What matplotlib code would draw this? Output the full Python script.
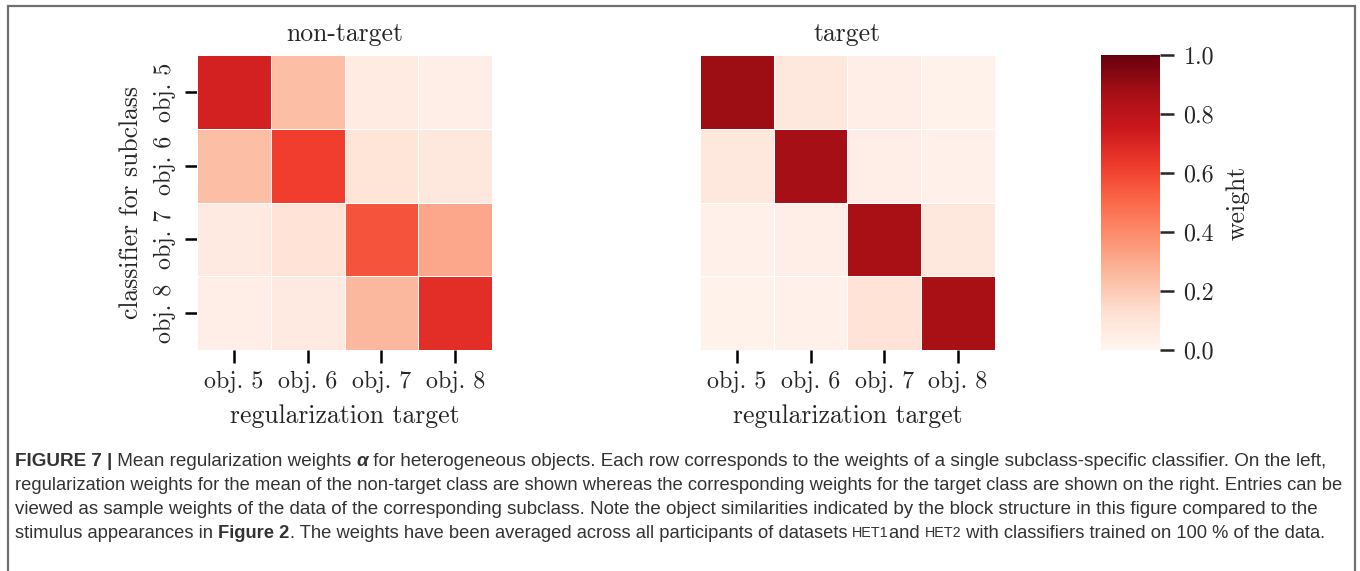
import numpy as np
import matplotlib
matplotlib.use("Agg")
import matplotlib.pyplot as plt
import seaborn as sns
from matplotlib.patches import Rectangle

# --- mean regularization weights (rows: classifier for subclass, cols: regularization target) ---
objects = ["obj. 5", "obj. 6", "obj. 7", "obj. 8"]

weights_nontarget = np.array([
    [0.72, 0.24, 0.06, 0.04],
    [0.24, 0.62, 0.10, 0.08],
    [0.07, 0.11, 0.56, 0.31],
    [0.04, 0.07, 0.26, 0.67],
])

weights_target = np.array([
    [0.89, 0.08, 0.04, 0.02],
    [0.08, 0.87, 0.04, 0.03],
    [0.03, 0.04, 0.86, 0.08],
    [0.02, 0.03, 0.11, 0.86],
])

panel_titles = ["non-target", "target"]
cbar_ticks = [0.0, 0.2, 0.4, 0.6, 0.8, 1.0]

# --- style ---
sns.set_style("ticks")
plt.rcParams['font.family'] = ['cmr10', 'DejaVu Serif']
plt.rcParams['axes.formatter.use_mathtext'] = True
plt.rcParams['mathtext.fontset'] = 'cm'

FS = 18.5      # titles / axis labels
TFS = 17.3     # tick labels
W, H = 1360, 571
fig = plt.figure(figsize=(W / 100, H / 100), dpi=100)

def px_axes(x0, y0, x1, y1):
    return fig.add_axes([x0 / W, 1 - y1 / H, (x1 - x0) / W, (y1 - y0) / H])

ax_left = px_axes(197, 55, 492, 350)
ax_right = px_axes(700, 55, 995, 350)
cax = px_axes(1101, 55, 1160, 350)

for ax, data, title in zip([ax_left, ax_right], [weights_nontarget, weights_target], panel_titles):
    sns.heatmap(data, ax=ax, cmap="Reds", vmin=0, vmax=1, linewidths=0.4,
                linecolor="white", square=False, cbar=(ax is ax_left), cbar_ax=cax if ax is ax_left else None,
                xticklabels=objects, yticklabels=objects if ax is ax_left else False)
    ax.set_title(title, fontsize=FS, pad=10)
    ax.set_xlabel("regularization target", fontsize=FS, labelpad=8)
    ax.tick_params(axis='both', length=9, width=1.8, color='black', labelsize=TFS, pad=6)
    ax.set_xticklabels(objects, rotation=0)
    if ax is ax_left:
        ax.set_yticklabels(objects, rotation=90, va='center')
        ax.set_ylabel("classifier for subclass", fontsize=FS, labelpad=8)
    else:
        ax.tick_params(axis='y', left=False)

cax.tick_params(length=10, width=1.8, labelsize=TFS, pad=7)
cax.set_yticks(cbar_ticks)
cax.set_yticklabels([f"{t:.1f}" for t in cbar_ticks])
cax.set_ylabel("weight", fontsize=FS, labelpad=8)
for s in cax.spines.values():
    s.set_visible(False)

# --- frame around figure and caption ---
frame = Rectangle((7.5 / W, -0.05), (1355 - 7.5) / W, 1.05 - 6 / H, transform=fig.transFigure,
                  fill=False, edgecolor='#707070', linewidth=1.6, clip_on=False)
fig.patches.append(frame)

cap_font = ['Liberation Sans', 'DejaVu Sans']
cap_size = 13.5
cap_color = '#333333'

caption = [
    [("FIGURE 7 |", dict(weight='bold')), (" Mean regularization weights ", {}),
     ("α", dict(weight='bold', style='italic')),
     (" for heterogeneous objects. Each row corresponds to the weights of a single subclass-specific classifier. On the left,", {})],
    [("regularization weights for the mean of the non-target class are shown whereas the corresponding weights for the target class are shown on the right. Entries can be", {})],
    [("viewed as sample weights of the data of the corresponding subclass. Note the object similarities indicated by the block structure in this figure compared to the", {})],
    [("stimulus appearances in ", {}), ("Figure 2", dict(weight='bold')),
     (". The weights have been averaged across all participants of datasets ", {}),
     ("HET1", dict(small=True)), ("and ", {}), ("HET2", dict(small=True)),
     (" with classifiers trained on 100 % of the data.", {})],
]
line_y = [461, 485, 509, 533]
line_end = [1327, 1345, 1316, 1328]   # right edge of each caption line (px)

renderer = fig.canvas.get_renderer()

def draw_line(pieces, y, size, x0=15):
    x = x0
    texts = []
    for txt, kw in pieces:
        kw = dict(kw)
        small = kw.pop('small', False)
        opts = dict(family=cap_font, size=size * (0.78 if small else 1.0), color=cap_color)
        opts.update(kw)
        t = fig.text(x / W, 1 - y / H, txt, va='center', ha='left', **opts)
        x += t.get_window_extent(renderer).width
        texts.append(t)
    return texts, x

for pieces, y, x_end in zip(caption, line_y, line_end):
    texts, x = draw_line(pieces, y, cap_size)
    for t in texts:
        t.remove()
    fitted = cap_size * (x_end - 15) / (x - 15)
    draw_line(pieces, y, fitted)

fig.savefig("out.png", dpi=100)
